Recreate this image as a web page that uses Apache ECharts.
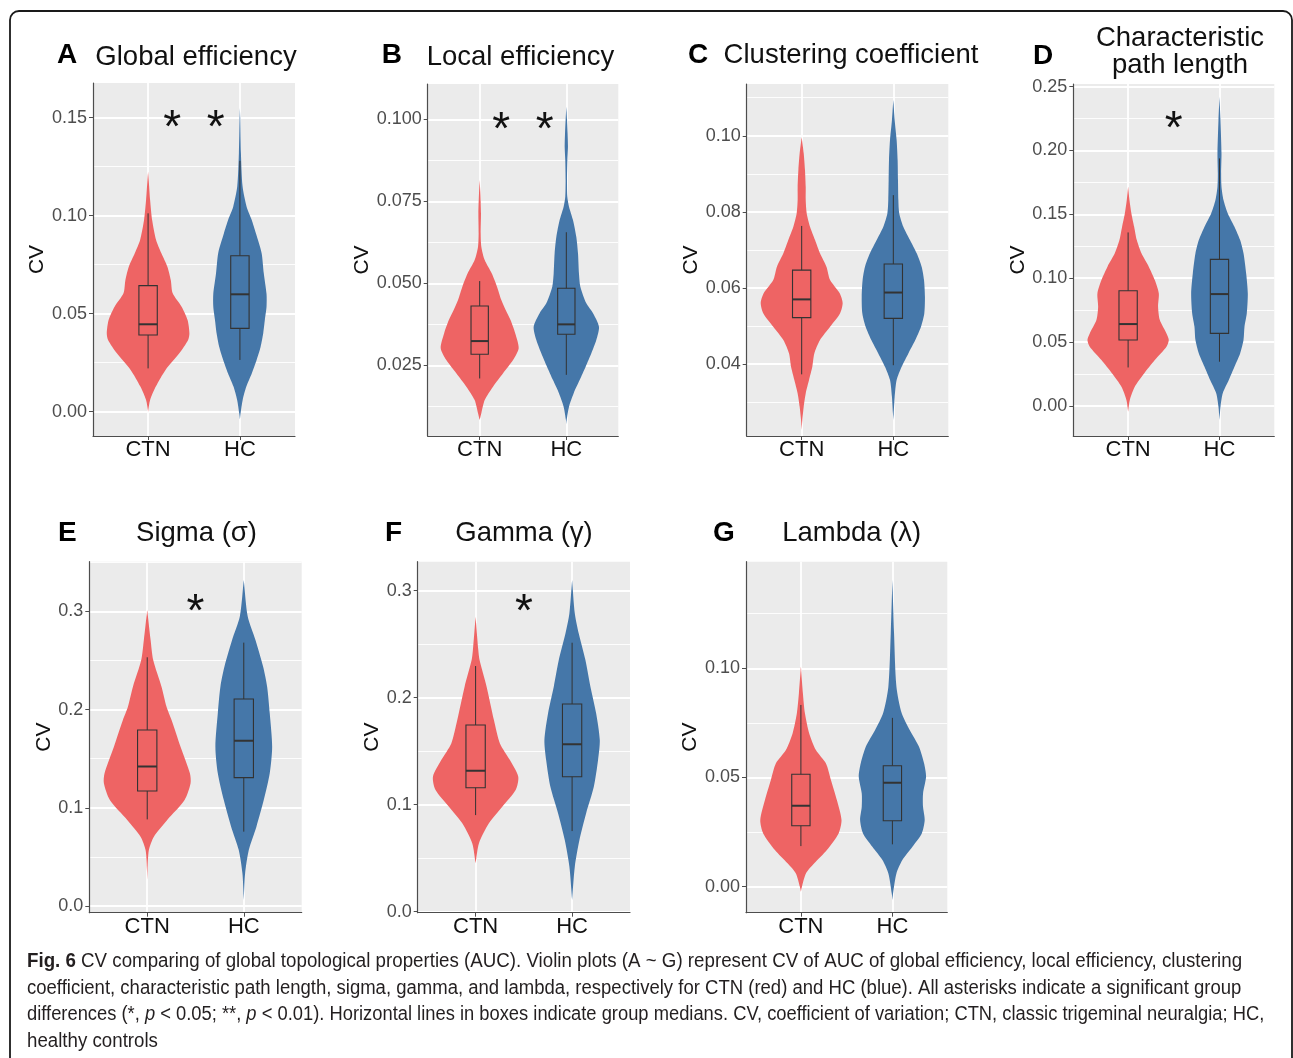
<!DOCTYPE html>
<html>
<head>
<meta charset="utf-8">
<script src="https://cdn.jsdelivr.net/npm/echarts@6/dist/echarts.min.js"></script>
<style>
  html, body { margin: 0; padding: 0; background: #ffffff; }
  #main { width: 1293px; height: 1058px; }
</style>
</head>
<body>
<div id="main"></div>
<script>
// Groups on the x axis (positions 1 and 2)
const groups = ['CTN', 'HC'];

// Violin outlines: [CV value, half width in category units], top to bottom.
// Box stats: [lower whisker, Q1, median, Q3, upper whisker].

// A  Global efficiency
const aTicks = [0, 0.05, 0.10, 0.15];
const aMinor = [0.025, 0.075, 0.125];
const aCtnViolin = [[0.1224,0],[0.118,0.007],[0.108,0.022],[0.0978,0.044],[0.0876,0.087],[0.0808,0.145],[0.074,0.21],[0.0672,0.247],[0.0604,0.268],[0.0536,0.365],[0.0468,0.43],[0.040,0.45],[0.0366,0.436],[0.0298,0.34],[0.0213,0.19],[0.0128,0.084],[0.006,0.022],[0.0,0]];
const aHcViolin = [[0.155,0],[0.149,0.004],[0.132,0.011],[0.115,0.029],[0.1046,0.073],[0.098,0.127],[0.091,0.174],[0.081,0.236],[0.0706,0.26],[0.060,0.29],[0.0536,0.29],[0.047,0.272],[0.040,0.254],[0.033,0.225],[0.0264,0.182],[0.0196,0.13],[0.0128,0.07],[0.006,0.03],[-0.001,0.007],[-0.004,0]];
const aCtnBox = [0.0221, 0.0391, 0.0446, 0.0643, 0.1012];
const aHcBox = [0.0264, 0.0425, 0.0599, 0.0796, 0.128];

// B  Local efficiency
const bTicks = [0.025, 0.050, 0.075, 0.100];
const bMinor = [0.0125, 0.0375, 0.0625, 0.0875];
const bCtnViolin = [[0.0815,0],[0.0774,0.008],[0.0713,0.015],[0.0652,0.012],[0.0612,0.019],[0.0571,0.058],[0.053,0.14],[0.049,0.2],[0.0449,0.25],[0.0419,0.3],[0.0388,0.356],[0.0348,0.41],[0.0302,0.45],[0.0266,0.385],[0.0226,0.27],[0.0185,0.154],[0.0144,0.058],[0.0104,0.019],[0.0083,0]];
const bHcViolin = [[0.1039,0],[0.0998,0.008],[0.0957,0.015],[0.0917,0.019],[0.0876,0.012],[0.0815,0.008],[0.0764,0.012],[0.0734,0.031],[0.0693,0.077],[0.0642,0.115],[0.0591,0.135],[0.053,0.146],[0.049,0.162],[0.0439,0.231],[0.0409,0.308],[0.0368,0.377],[0.0327,0.346],[0.0287,0.289],[0.0246,0.223],[0.0205,0.154],[0.0165,0.085],[0.0124,0.031],[0.0083,0.004],[0.007,0]];
const bCtnBox = [0.0210, 0.0284, 0.0324, 0.0431, 0.0507];
const bHcBox = [0.0221, 0.0345, 0.0375, 0.0485, 0.0656];

// C  Clustering coefficient
const cTicks = [0.04, 0.06, 0.08, 0.10];
const cMinor = [0.03, 0.05, 0.07, 0.09, 0.11];
const cCtnViolin = [[0.0997,0],[0.0954,0.022],[0.091,0.036],[0.0866,0.044],[0.0831,0.044],[0.0796,0.055],[0.0761,0.091],[0.0726,0.146],[0.0691,0.2],[0.0656,0.27],[0.0621,0.31],[0.0586,0.415],[0.056,0.447],[0.0533,0.418],[0.0498,0.31],[0.0463,0.2],[0.0428,0.138],[0.0393,0.116],[0.0358,0.08],[0.0323,0.044],[0.0288,0.022],[0.0253,0.007],[0.0227,0]];
const cHcViolin = [[0.1094,0],[0.1041,0.015],[0.0989,0.036],[0.0936,0.047],[0.0883,0.051],[0.0831,0.055],[0.0796,0.065],[0.0761,0.109],[0.0726,0.182],[0.0691,0.255],[0.0656,0.309],[0.0621,0.335],[0.0577,0.345],[0.0533,0.338],[0.0498,0.302],[0.0463,0.24],[0.0428,0.164],[0.0393,0.091],[0.0358,0.036],[0.0314,0.015],[0.027,0.004],[0.0253,0]];
const cCtnBox = [0.0373, 0.0522, 0.0570, 0.0647, 0.0763];
const cHcBox = [0.0397, 0.0520, 0.0588, 0.0663, 0.0844];

// D  Characteristic path length
const dTicks = [0, 0.05, 0.10, 0.15, 0.20, 0.25];
const dMinor = [0.025, 0.075, 0.125, 0.175, 0.225];
const dCtnViolin = [[0.1716,0],[0.161,0.015],[0.1507,0.036],[0.1403,0.066],[0.1298,0.095],[0.1194,0.146],[0.109,0.226],[0.0985,0.292],[0.088,0.336],[0.0776,0.328],[0.0671,0.347],[0.0567,0.42],[0.0515,0.445],[0.0462,0.42],[0.0358,0.292],[0.0253,0.175],[0.0149,0.073],[0.0044,0.018],[-0.0047,0]];
const dHcViolin = [[0.2422,0],[0.2239,0.011],[0.1978,0.022],[0.1821,0.018],[0.1716,0.022],[0.1612,0.044],[0.1507,0.091],[0.1403,0.164],[0.1298,0.226],[0.1194,0.263],[0.1037,0.292],[0.088,0.31],[0.0724,0.299],[0.062,0.274],[0.0515,0.263],[0.041,0.226],[0.0306,0.164],[0.0201,0.102],[0.0097,0.036],[-0.0008,0.011],[-0.0112,0]];
const dCtnBox = [0.030, 0.0515, 0.064, 0.0901, 0.1358];
const dHcBox = [0.0345, 0.0567, 0.0875, 0.1147, 0.1938];

// E  Sigma
const eTicks = [0, 0.1, 0.2, 0.3];
const eMinor = [0.05, 0.15, 0.25, 0.35];
const eCtnViolin = [[0.3013,0],[0.2708,0.035],[0.2504,0.062],[0.2233,0.148],[0.2029,0.2],[0.1894,0.252],[0.1622,0.345],[0.1351,0.442],[0.1249,0.449],[0.1079,0.387],[0.0876,0.207],[0.0706,0.069],[0.057,0.017],[0.0367,0.003],[0.0265,0]];
const eHcViolin = [[0.3319,0],[0.2946,0.041],[0.2708,0.121],[0.2437,0.2],[0.2233,0.242],[0.1962,0.269],[0.1622,0.294],[0.1351,0.269],[0.1079,0.207],[0.0808,0.131],[0.057,0.052],[0.0333,0.014],[0.0061,0]];
const eCtnBox = [0.0882, 0.1171, 0.1419, 0.1792, 0.2532];
const eHcBox = [0.0757, 0.1307, 0.1683, 0.2107, 0.2681];

// F  Gamma
const fTicks = [0, 0.1, 0.2, 0.3];
const fMinor = [0.05, 0.15, 0.25];
const fCtnViolin = [[0.2757,0],[0.2445,0.028],[0.2352,0.041],[0.2103,0.114],[0.1791,0.19],[0.1573,0.252],[0.1417,0.356],[0.1262,0.442],[0.1137,0.415],[0.0981,0.276],[0.0826,0.138],[0.0639,0.035],[0.0452,0]];
const fHcViolin = [[0.31,0],[0.2788,0.028],[0.2601,0.069],[0.2352,0.138],[0.2103,0.19],[0.1854,0.249],[0.1604,0.287],[0.1417,0.269],[0.1168,0.225],[0.0919,0.145],[0.067,0.076],[0.0421,0.028],[0.0109,0]];
const fCtnBox = [0.0903, 0.1159, 0.1318, 0.1745, 0.2296];
const fHcBox = [0.0754, 0.1262, 0.1564, 0.1941, 0.2514];

// G  Lambda
const gTicks = [0, 0.05, 0.10];
const gMinor = [0.025, 0.075, 0.125];
const gCtnViolin = [[0.1008,0],[0.0885,0.022],[0.0794,0.044],[0.0702,0.091],[0.0626,0.164],[0.0565,0.273],[0.0489,0.328],[0.0397,0.393],[0.0305,0.444],[0.0244,0.412],[0.0168,0.284],[0.0107,0.146],[0.0061,0.055],[0.0,0.011],[-0.0023,0]];
const gHcViolin = [[0.1405,0],[0.116,0.018],[0.0916,0.044],[0.0794,0.102],[0.0718,0.189],[0.0641,0.291],[0.0565,0.346],[0.0504,0.368],[0.0427,0.335],[0.0366,0.335],[0.0305,0.353],[0.0244,0.321],[0.0183,0.219],[0.0122,0.109],[0.0061,0.044],[-0.0031,0.007],[-0.0061,0]];
const gCtnBox = [0.0186, 0.0279, 0.0371, 0.0515, 0.0832];
const gHcBox = [0.0194, 0.0302, 0.0476, 0.0554, 0.0773];

// Significance marks above each pair and the CV level they sit at
const sigMarks = ['*  *', '*  *', '', '*', '*', '*', ''];
const sigLevels = [0.15, 0.100, null, 0.225, 0.31, 0.29, null];

const COLORS = ['#EE6464', '#4577A9'];
const FONT = "'Liberation Sans', Arial, Helvetica, sans-serif";

// Panel layout (pixel rectangles of the grey plotting areas) plus the arrays above
const panels = [
  { letter: 'A', title: 'Global efficiency', grid: [93, 83, 202, 353], yr: [-0.0124, 0.1677], ticks: aTicks, minor: aMinor, dec: 2,
    violins: [aCtnViolin, aHcViolin], boxes: [aCtnBox, aHcBox], cvX: 38.5, titleX: 196, titleY: 57.3, letterX: 57, letterY: 55.3 },
  { letter: 'B', title: 'Local efficiency', grid: [427.7, 84, 190.6, 352], yr: [0.00345, 0.1108], ticks: bTicks, minor: bMinor, dec: 3,
    violins: [bCtnViolin, bHcViolin], boxes: [bCtnBox, bHcBox], cvX: 362, titleX: 520.5, titleY: 57.3, letterX: 381.7, letterY: 55.3 },
  { letter: 'C', title: 'Clustering coefficient', grid: [746.7, 84, 201.6, 352], yr: [0.0211, 0.1136], ticks: cTicks, minor: cMinor, dec: 2,
    violins: [cCtnViolin, cHcViolin], boxes: [cCtnBox, cHcBox], cvX: 691, titleX: 851, titleY: 55.6, letterX: 688, letterY: 55.6 },
  { letter: 'D', title: 'Characteristic\npath length', grid: [1073.3, 84, 201, 352], yr: [-0.0237, 0.2521], ticks: dTicks, minor: dMinor, dec: 2,
    violins: [dCtnViolin, dHcViolin], boxes: [dCtnBox, dHcBox], cvX: 1017, titleX: 1180, titleY: 51.5, letterX: 1033, letterY: 56.3 },
  { letter: 'E', title: 'Sigma (\u03c3)', grid: [89.3, 561.7, 212.4, 351], yr: [-0.0068, 0.3505], ticks: eTicks, minor: eMinor, dec: 1,
    violins: [eCtnViolin, eHcViolin], boxes: [eCtnBox, eHcBox], cvX: 45, titleX: 196.5, titleY: 533.9, letterX: 58, letterY: 533 },
  { letter: 'F', title: 'Gamma (\u03b3)', grid: [417.7, 561.7, 212.3, 351], yr: [-0.0009, 0.3271], ticks: fTicks, minor: fMinor, dec: 1,
    violins: [fCtnViolin, fHcViolin], boxes: [fCtnBox, fHcBox], cvX: 373, titleX: 524, titleY: 533.9, letterX: 385, letterY: 533 },
  { letter: 'G', title: 'Lambda (\u03bb)', grid: [746, 561.7, 201.3, 351], yr: [-0.0119, 0.1488], ticks: gTicks, minor: gMinor, dec: 2,
    violins: [gCtnViolin, gHcViolin], boxes: [gCtnBox, gHcBox], cvX: 691, titleX: 851.7, titleY: 533.9, letterX: 713, letterY: 533 }
];

const grids = [], xAxes = [], yAxes = [], series = [], graphics = [];

panels.forEach((p, i) => {
  const [gl, gt, gw, gh] = p.grid;
  grids.push({ left: gl, top: gt, width: gw, height: gh, show: true, backgroundColor: '#EBEBEB', borderWidth: 0 });

  xAxes.push({
    type: 'value', gridIndex: i, min: 0.4, max: 2.6,
    axisLine: { show: true, onZero: false, lineStyle: { color: '#4d4d4d', width: 1.2 } },
    axisTick: { show: true, length: 4, customValues: [1, 2], lineStyle: { color: '#4d4d4d', width: 1 } },
    axisLabel: { show: true, customValues: [1, 2], margin: 3, color: '#111111', fontSize: 22, fontFamily: FONT,
      formatter: v => groups[Math.round(v) - 1] },
    splitLine: { show: true, lineStyle: { color: '#ffffff', width: 1.8 } }
  });

  // major axis with labels
  yAxes.push({
    type: 'value', gridIndex: i, min: p.yr[0], max: p.yr[1],
    name: 'CV', nameLocation: 'middle', nameGap: p.grid[0] - p.cvX - 12,
    nameTextStyle: { color: '#111111', fontSize: 21, fontFamily: FONT },
    axisLine: { show: true, onZero: false, lineStyle: { color: '#4d4d4d', width: 1.2 } },
    axisTick: { show: true, length: 4, customValues: p.ticks, lineStyle: { color: '#4d4d4d', width: 1 } },
    axisLabel: { show: true, customValues: p.ticks, margin: 6, color: '#4d4d4d', fontSize: 18, fontFamily: FONT,
      formatter: v => v.toFixed(p.dec) },
    splitLine: { show: true, lineStyle: { color: '#ffffff', width: 1.8 } }
  });
  // companion axis carrying only the minor grid lines
  yAxes.push({
    type: 'value', gridIndex: i, min: p.yr[0], max: p.yr[1],
    axisLine: { show: false }, axisLabel: { show: false },
    axisTick: { show: false, customValues: p.minor },
    splitLine: { show: true, lineStyle: { color: '#ffffff', width: 0.9 } }
  });

  // violins with inner boxplots
  series.push({
    type: 'custom', xAxisIndex: i, yAxisIndex: 2 * i, clip: true, z: 3,
    data: groups.map((g, k) => [k + 1, p.yr[0]]),
    renderItem: (params, api) => {
      const k = params.dataIndex;
      const cx = k + 1;
      const prof = p.violins[k];
      const right = prof.slice().reverse().map(([v, w]) => api.coord([cx + w, v]));
      const left = prof.map(([v, w]) => api.coord([cx - w, v]));
      const [lo, q1, med, q3, hi] = p.boxes[k];
      const tl = api.coord([cx - 0.1, q3]);
      const br = api.coord([cx + 0.1, q1]);
      const c = api.coord([cx, med]);
      const lineCol = '#333333';
      return {
        type: 'group',
        children: [
          { type: 'polygon', shape: { points: right.concat(left), smooth: 0.25 },
            style: { fill: COLORS[k], stroke: null } },
          { type: 'line', shape: { x1: c[0], y1: api.coord([cx, hi])[1], x2: c[0], y2: tl[1] },
            style: { stroke: lineCol, lineWidth: 1 } },
          { type: 'line', shape: { x1: c[0], y1: br[1], x2: c[0], y2: api.coord([cx, lo])[1] },
            style: { stroke: lineCol, lineWidth: 1 } },
          { type: 'rect', shape: { x: tl[0], y: tl[1], width: br[0] - tl[0], height: br[1] - tl[1] },
            style: { fill: null, stroke: lineCol, lineWidth: 1.1 } },
          { type: 'line', shape: { x1: tl[0], y1: c[1], x2: br[0], y2: c[1] },
            style: { stroke: lineCol, lineWidth: 2 } }
        ]
      };
    }
  });

  // significance asterisks
  if (sigMarks[i]) {
    series.push({
      type: 'custom', xAxisIndex: i, yAxisIndex: 2 * i, z: 4,
      data: [[1.5, sigLevels[i]]],
      renderItem: (params, api) => {
        const pt = api.coord([api.value(0), api.value(1)]);
        return { type: 'text', x: pt[0], y: pt[1] + 11.5,
          style: { text: sigMarks[i], fontSize: 46, fontFamily: FONT, fill: '#111111',
            align: 'center', verticalAlign: 'middle', textAlign: 'center', textVerticalAlign: 'middle' } };
      }
    });
  }

  // panel title and letter
  graphics.push({ type: 'text', x: p.titleX, y: p.titleY,
    style: { text: p.title, fontSize: 27.5, fontFamily: FONT, fill: '#111111', lineHeight: 27,
      align: 'center', verticalAlign: 'middle', textAlign: 'center', textVerticalAlign: 'middle' } });
  graphics.push({ type: 'text', x: p.letterX, y: p.letterY,
    style: { text: p.letter, fontSize: 28, fontWeight: 'bold', fontFamily: FONT, fill: '#000000',
      align: 'left', verticalAlign: 'middle', textAlign: 'left', textVerticalAlign: 'middle' } });
});

// outer frame
graphics.push({ type: 'rect', x: 10, y: 11, shape: { width: 1282, height: 1100, r: 9 },
  style: { fill: null, stroke: '#1a1a1a', lineWidth: 1.8 }, z: 0 });

// caption
const captionLines = [
  '{b|Fig. 6} CV comparing of global topological properties (AUC). Violin plots (A ~ G) represent CV of AUC of global efficiency, local efficiency, clustering',
  'coefficient, characteristic path length, sigma, gamma, and lambda, respectively for CTN (red) and HC (blue). All asterisks indicate a significant group',
  'differences (*, {i|p} < 0.05; **, {i|p} < 0.01). Horizontal lines in boxes indicate group medians. CV, coefficient of variation; CTN, classic trigeminal neuralgia; HC,',
  'healthy controls'
];
const captionY = [961, 988, 1014.5, 1041];
const captionScale = [0.936, 0.926, 0.917, 0.935];
captionLines.forEach((t, j) => {
  graphics.push({ type: 'text', x: 27, y: captionY[j], scaleX: captionScale[j],
    style: { text: t, fontSize: 20, fontFamily: FONT, fill: '#231f20',
      align: 'left', verticalAlign: 'middle', textAlign: 'left', textVerticalAlign: 'middle',
      rich: {
        b: { fontSize: 20, fontFamily: FONT, fontWeight: 'bold', fill: '#231f20' },
        i: { fontSize: 20, fontFamily: FONT, fontStyle: 'italic', fill: '#231f20' }
      } } });
});

const chart = echarts.init(document.getElementById('main'), null, { renderer: 'canvas' });
chart.setOption({
  animation: false,
  backgroundColor: '#ffffff',
  grid: grids,
  xAxis: xAxes,
  yAxis: yAxes,
  series: series,
  graphic: { elements: graphics }
});
</script>
</body>
</html>
